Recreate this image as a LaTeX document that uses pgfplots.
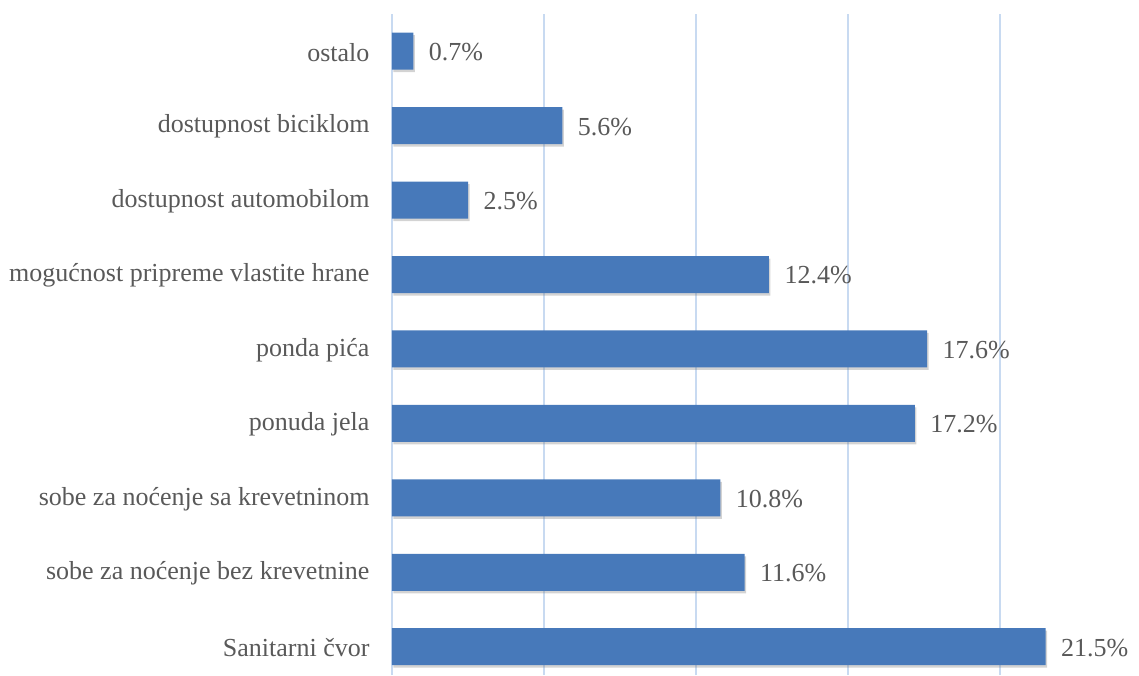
\documentclass[border=0pt]{standalone}
\usepackage{pgfplots}
\pgfplotsset{compat=1.18}
\usepackage{fontspec}
\setmainfont{Liberation Serif}
\usetikzlibrary{shadows}
\definecolor{barblue}{HTML}{4779BA}
\definecolor{gridblue}{HTML}{C8DAF1}
\definecolor{txtgray}{HTML}{595959}
\begin{document}
\begin{tikzpicture}
\begin{axis}[
  scale only axis,
  width=747pt, height=661pt,
  xbar, bar width=37pt,
  xmin=0, xmax=24.57,
  ymin=-0.38, ymax=8.5,
  ytick={0,...,8},
  yticklabels={Sanitarni čvor, sobe za noćenje bez krevetnine, sobe za noćenje sa krevetninom, ponuda jela, ponda pića, mogućnost pripreme vlastite hrane, dostupnost automobilom, dostupnost biciklom, ostalo},
  xtick={0,5,10,15,20},
  xticklabels={},
  xmajorgrids,
  grid style={gridblue, line width=1.5pt},
  axis line style={draw=none},
  major tick length=0pt,
  /pgf/number format/assume math mode=true,
  yticklabel style={font=\fontsize{26}{29}\selectfont, text=txtgray, xshift=-19pt, yshift=-1pt},
  nodes near coords={\pgfmathprintnumber[fixed,precision=1,fixed zerofill,assume math mode=true]{\pgfplotspointmeta}\%},
  nodes near coords style={font=\fontsize{26}{29}\selectfont, text=txtgray, xshift=12pt, yshift=-1pt},
  clip=false,
]
\addplot[fill=barblue, draw=none, drop shadow={shadow xshift=1.5pt, shadow yshift=-2.5pt, opacity=0.35}] coordinates {
(21.5,0) (11.6,1) (10.8,2) (17.2,3) (17.6,4) (12.4,5) (2.5,6) (5.6,7) (0.7,8)
};
\end{axis}
\pgfresetboundingbox
\path (current axis.south west) ++(-392pt,0) rectangle ++(1139pt,675pt);
\end{tikzpicture}
\end{document}
